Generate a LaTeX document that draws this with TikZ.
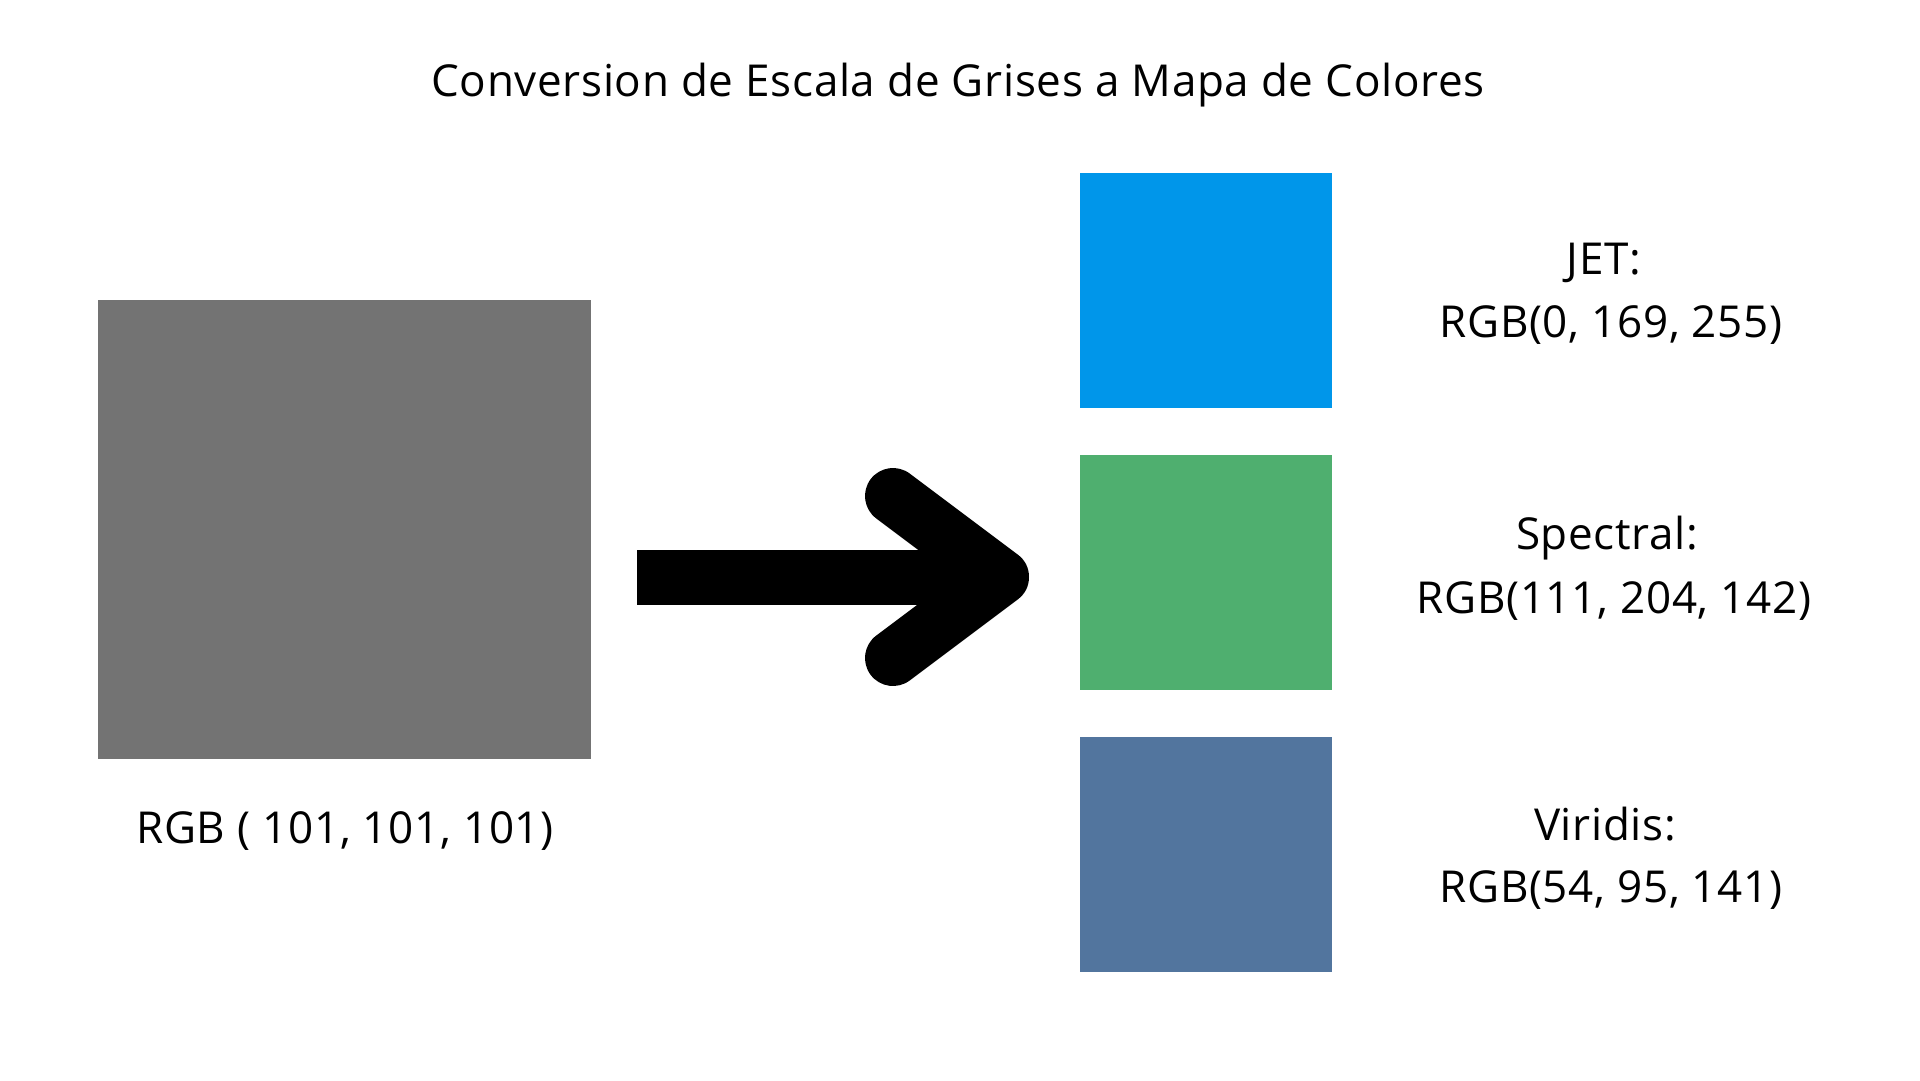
\documentclass[tikz,border=0pt]{standalone}
\usepackage{fontspec}
\setmainfont{Open Sans}[LetterSpace=1.5]
\definecolor{grayc}{RGB}{115,115,115}
\definecolor{jetc}{RGB}{0,150,234}
\definecolor{specc}{RGB}{79,175,111}
\definecolor{virc}{RGB}{82,117,158}
\begin{document}
\begin{tikzpicture}[x=1pt,y=-1pt,
  swatch/.style={inner sep=0pt,outer sep=0pt,anchor=north west,minimum width=252pt,minimum height=235pt},
  lbl/.style={inner sep=0pt,outer sep=0pt,anchor=base,font=\fontsize{44}{52}\selectfont,text=black},
  ttl/.style={inner sep=0pt,outer sep=0pt,anchor=base,font=\fontsize{44}{52}\selectfont,text=black}]
\useasboundingbox[fill=white] (0,0) rectangle (1920,1080);
\node[ttl] (title) at (958,96) {Conversion de Escala de Grises a Mapa de Colores};
\node[inner sep=0pt,outer sep=0pt,anchor=north west,minimum width=493pt,minimum height=459pt,fill=grayc] (gray) at (98,300) {};
\node[lbl] (graylbl) at (345,843) {RGB ( 101, 101, 101)};
\node[swatch,fill=jetc] (jet) at (1080,173) {};
\node[swatch,fill=specc] (spec) at (1080,455) {};
\node[swatch,fill=virc] (vir) at (1080,737) {};
\node[lbl] (jet1) at (1604,274) {JET:};
\node[lbl] (jet2) at (1611,337) {RGB(0, 169, 255)};
\node[lbl] (spec1) at (1607,549) {Spectral:};
\node[lbl] (spec2) at (1614,613) {RGB(111, 204, 142)};
\node[lbl] (vir1) at (1605,840) {Viridis:};
\node[lbl] (vir2) at (1611,902) {RGB(54, 95, 141)};
% arrow
\coordinate (sA) at (637,550);
\coordinate (sB) at (960,605);
\coordinate (hU) at (893,496);
\coordinate (hT) at (1001,577);
\coordinate (hL) at (893,658);
\fill[black] (sA) rectangle (sB);
\draw[black,line width=56pt,line cap=round,line join=round] (hU) -- (hT) -- (hL);
\end{tikzpicture}
\end{document}
